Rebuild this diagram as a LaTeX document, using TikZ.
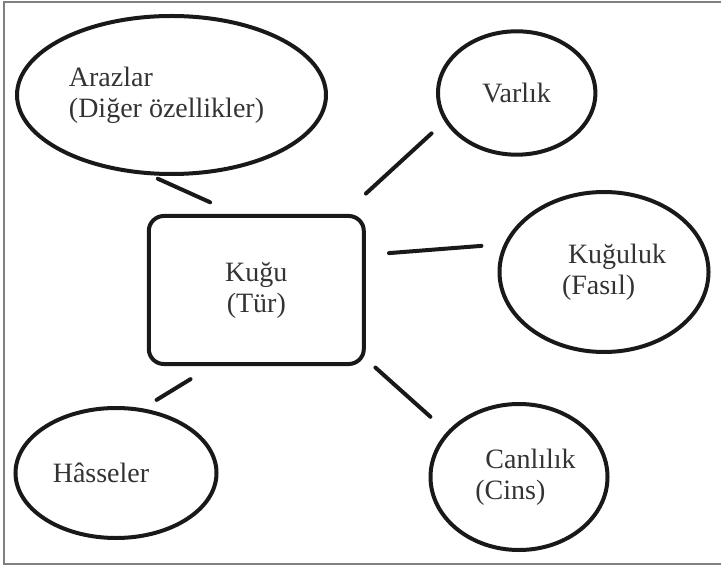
\documentclass[tikz,border=0pt]{standalone}
\usepackage{fontspec}
\setmainfont{Liberation Serif}
\usetikzlibrary{shapes.geometric}

\begin{document}
\begin{tikzpicture}[x=0.5pt, y=-0.5pt, line width=2pt,
  every node/.style={text=black!80, font=\fontsize{14}{15.5}\selectfont, inner sep=0pt, outer sep=0pt},
  oval/.style={draw=black!90, ellipse, align=left},
  link/.style={draw=black!90, line cap=round}]

\useasboundingbox (0,0) rectangle (721,566);

\draw [gray, line width=0.7pt] (721,2) -- (4,2) -- (4,564) -- (721,564);

\node [draw=black!90, rounded corners=7.5pt, minimum width=107.5pt, minimum height=74pt, align=center] (kugu) at (256.3,290) {Kuğu\\(Tür)};

\node [oval, minimum width=154.5pt, minimum height=79pt] (arazlar) at (171.5,95) {Arazlar\\(Diğer özellikler)\hspace*{5pt}};
\node [oval, minimum width=78.7pt, minimum height=61.7pt] (varlik) at (516.7,93) {Varlık};
\node [oval, minimum width=104.5pt, minimum height=80pt] (kuguluk) at (604,272) {\hspace*{13pt}Kuğuluk\\\hspace*{10pt}(Fasıl)};
\node [oval, minimum width=88.5pt, minimum height=73pt] (canlilik) at (519,477) {\hspace*{11.5pt}Canlılık\\\hspace*{6.5pt}(Cins)};
\node [oval, minimum width=100.5pt, minimum height=65pt] (hasseler) at (116,473) {Hâsseler\hspace*{15pt}};

\begin{scope}[link]
\draw [shorten <=7.2pt, shorten >=16.7pt] (arazlar.251.7) -- (kugu.102); %arazlar-kugu
\draw [shorten <=9.8pt, shorten >=16.6pt] (varlik.201) -- (kugu.41.1); %varlik-kugu
\draw [shorten <=12.4pt, shorten >=12.6pt] (kuguluk.164.4) -- (kugu.18.8); %kuguluk-kugu
\draw [shorten <=12.1pt, shorten >=7.8pt] (canlilik.148.1) -- (kugu.328.6); %canlilik-kugu
\draw [shorten <=9.6pt, shorten >=14.5pt] (hasseler.69) -- (kugu.241.5); %hasseler-kugu
\end{scope}

\end{tikzpicture}
\end{document}
